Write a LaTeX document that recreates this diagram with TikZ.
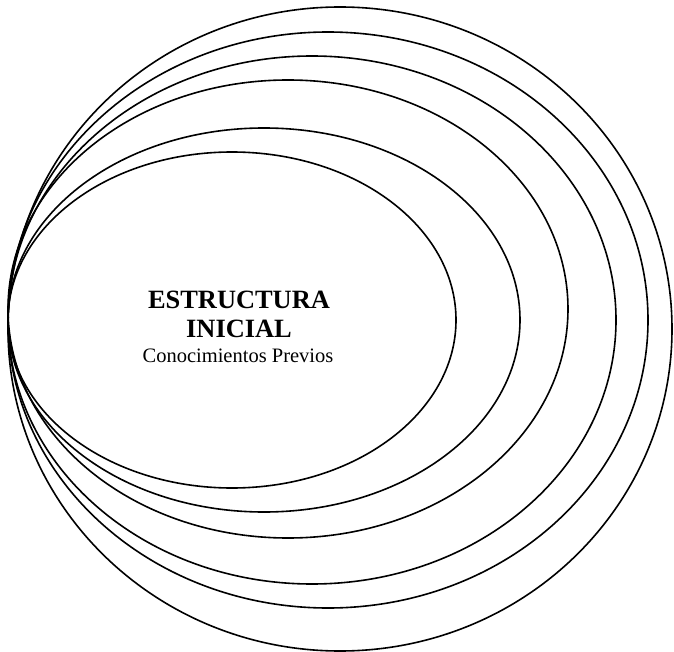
\documentclass[tikz,border=0pt]{standalone}
\usepackage{fontspec}
\setmainfont{Liberation Serif}
\begin{document}
\begin{tikzpicture}[x=1pt,y=-1pt,
  ring/.style={draw=black,line width=1.6pt},
  title/.style={font=\fontsize{26.4}{30}\selectfont\bfseries,anchor=base},
  sub/.style={font=\fontsize{20.5}{24}\selectfont,anchor=base}]
\useasboundingbox (0,0) rectangle (674,652);
\draw[ring] (340,329) ellipse [x radius=332,y radius=322];
\draw[ring] (328,320) ellipse [x radius=320,y radius=288];
\draw[ring] (312,320) ellipse [x radius=304,y radius=264];
\draw[ring] (288,309) ellipse [x radius=280,y radius=229];
\draw[ring] (264,320) ellipse [x radius=256,y radius=192];
\draw[ring] (232,320) ellipse [x radius=224,y radius=168];
\node[title] (t1) at (239,308) {ESTRUCTURA};
\node[title] (t2) at (239,337) {INICIAL};
\node[sub] (t3) at (238,362) {Conocimientos Previos};
\end{tikzpicture}
\end{document}
